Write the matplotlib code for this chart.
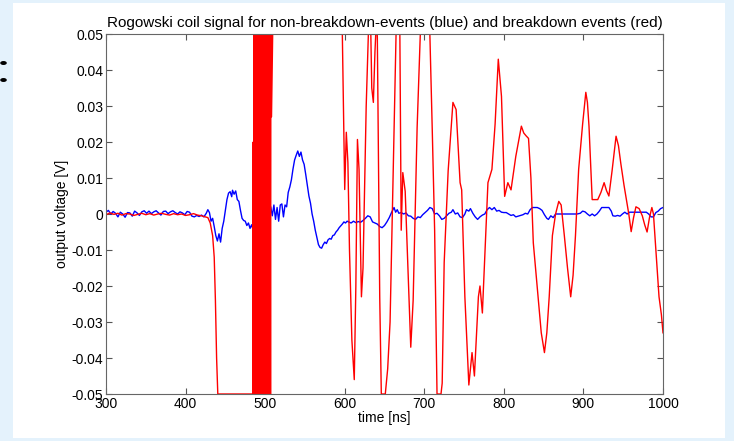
import matplotlib
matplotlib.use("Agg")
import matplotlib.pyplot as plt
from matplotlib.patches import Rectangle, Circle

plt.rcParams['font.family'] = ['Liberation Sans', 'DejaVu Sans']

# Non-breakdown event (blue): time [ns], voltage [V]
blue_t = [300, 303, 306, 309, 312, 315, 318, 321, 324, 327, 330, 333, 336, 339, 342, 345, 348, 351,
          354, 357, 360, 363, 366, 369, 372, 375, 378, 381, 384, 387, 390, 393, 396, 399, 402, 405,
          408, 411, 414, 417, 420, 423, 426, 428, 430, 432, 434, 436, 438, 440, 442, 444, 446, 448,
          450, 452, 454, 456, 458, 459, 461, 463, 465, 467, 469, 471, 473, 475, 477, 479, 481, 483,
          485, 488, 492, 496, 500, 504, 507, 509, 511, 513, 515, 517, 519, 521, 523, 525, 527, 529,
          531, 533, 535, 537, 539, 541, 543, 545, 547, 549, 551, 553, 555, 557, 559, 561, 563, 565,
          567, 569, 571, 573, 575, 577, 579, 581, 583, 585, 587, 589, 591, 593, 595, 597, 599, 601,
          603, 605, 608, 611, 614, 617, 620, 623, 626, 629, 632, 635, 638, 641, 644, 647, 650, 653,
          656, 659, 662, 664, 666, 668, 671, 674, 677, 680, 683, 686, 689, 692, 695, 698, 701, 704,
          707, 710, 713, 716, 719, 722, 725, 728, 731, 734, 736, 739, 742, 745, 748, 751, 753, 756,
          758, 761, 764, 767, 770, 773, 776, 779, 782, 785, 788, 791, 794, 797, 800, 803, 806, 809,
          812, 815, 818, 821, 824, 827, 830, 833, 836, 839, 842, 845, 848, 851, 854, 856, 859, 862,
          865, 868, 872, 876, 880, 884, 888, 892, 896, 899, 902, 905, 908, 911, 914, 917, 920, 923,
          926, 929, 932, 935, 937, 940, 943, 946, 949, 952, 955, 958, 961, 964, 967, 970, 973, 976,
          979, 982, 985, 988, 991, 994, 997, 1000]
blue_v = [0.0005, 0.001, 0.0, 0.0007, 0.0002, -0.0008, 0.0005, 0.0, -0.0009, 0.0004, 0.0003, -0.0006,
          0.0008, 0.0003, -0.0004, 0.0006, 0.0009, 0.0002, 0.0008, 0.0001, 0.0006, 0.0009, 0.0003,
          -0.0003, 0.0007, 0.0008, 0.0001, 0.0006, 0.0009, 0.0004, 0.0, 0.0006, 0.0003, -0.0002,
          0.0007, 0.0005, -0.0006, -0.0008, -0.0004, -0.0007, -0.0003, -0.0008, 0.0002, 0.0012,
          0.0004, -0.002, -0.0012, -0.0035, -0.006, -0.0075, -0.0055, -0.0078, -0.004, -0.002,
          0.001, 0.004, 0.0058, 0.0062, 0.0048, 0.0066, 0.0055, 0.0064, 0.004, 0.0035, 0.001,
          -0.0012, -0.0018, -0.002, -0.0032, -0.0025, -0.004, -0.003, -0.0045, -0.002, 0.001,
          -0.001, 0.002, -0.001, 0.002, -0.0005, 0.0025, -0.0015, 0.0018, -0.002, 0.0025, 0.0028,
          -0.0008, 0.0025, 0.002, 0.006, 0.0075, 0.0095, 0.0125, 0.015, 0.0163, 0.0175, 0.016,
          0.0172, 0.015, 0.0138, 0.011, 0.008, 0.005, 0.003, 0.0, -0.002, -0.0045, -0.0065,
          -0.0085, -0.0093, -0.0095, -0.0085, -0.0078, -0.0082, -0.0072, -0.0068, -0.007, -0.006,
          -0.0058, -0.005, -0.0045, -0.0038, -0.0033, -0.0028, -0.0022, -0.0025, -0.002, -0.0022,
          -0.0025, -0.002, -0.0024, -0.0021, -0.0023, -0.0018, -0.0012, -0.0005, -0.0008, -0.0022,
          -0.0025, -0.0028, -0.0035, -0.0038, -0.0032, -0.0022, -0.001, 0.0005, 0.0018, 0.0005,
          0.0012, 0.0002, 0.0004, 0.0, 0.0003, -0.0005, -0.0006, -0.0012, -0.0015, -0.0008, -0.001,
          -0.0002, 0.0004, 0.001, 0.0018, 0.0015, 0.0, 0.0002, -0.0005, -0.0015, -0.0012, -0.0005,
          0.0002, 0.0005, 0.0012, 0.0, 0.0003, -0.0008, -0.001, 0.0, 0.0012, 0.0008, 0.0015,
          0.0002, -0.0008, -0.0015, -0.0008, -0.0003, 0.0, 0.0012, 0.0018, 0.0012, 0.0018, 0.0008,
          0.001, 0.0005, 0.0004, 0.0004, 0.0, -0.0004, -0.0002, -0.0008, -0.0006, -0.0004, -0.0002,
          0.0002, 0.0, 0.0012, 0.0018, 0.0018, 0.0018, 0.0015, 0.001, -0.0002, -0.0012, -0.0015,
          -0.0005, -0.001, 0.0, 0.0, 0.0, 0.0, 0.0, 0.0, 0.0, 0.0, 0.0002, 0.0008, 0.0006, 0.0,
          -0.0005, 0.0, -0.0005, 0.0, 0.0008, 0.0018, 0.0018, 0.0018, 0.0018, 0.0008, -0.0005,
          -0.0006, -0.0004, -0.0006, 0.0, 0.0005, 0.0, 0.0005, 0.0005, 0.0005, 0.0005, 0.0005,
          0.0005, 0.0005, 0.0005, 0.0, -0.0008, -0.0008, 0.0004, 0.0008, 0.0015, 0.0018]

# Breakdown event (red): time [ns], voltage [V]
red_t = [300, 305, 310, 315, 320, 325, 330, 335, 340, 345, 350, 355, 360, 365, 370, 375, 380, 385,
         390, 395, 400, 405, 410, 415, 420, 425, 428, 431, 434, 436, 437.5, 439, 440.5, 450, 460,
         470, 480, 484.5,
         485.0, 485.5, 486.1, 486.6, 487.2, 487.8, 488.3, 488.9, 489.4, 490.0, 490.5, 491.1, 491.7,
         492.2, 492.8, 493.3, 493.9, 494.5, 495.0, 495.6, 496.1, 496.7, 497.3, 497.8, 498.4, 498.9,
         499.5, 500.1, 500.6, 501.2, 501.7, 502.3, 502.9, 503.4, 504.0, 504.5, 505.1, 505.7, 506.2,
         506.8, 507.3, 508.0,
         512, 530, 560, 590, 596, 597, 599, 600, 602, 604, 606, 609, 612, 614, 616, 618, 621, 623,
         627, 629, 630, 632, 634, 636, 638, 640, 641, 644, 646, 651, 654, 657, 662, 665, 669, 671,
         673, 676, 679, 683, 686, 691, 695, 697, 704, 707, 710, 713, 716, 721, 722.5, 725, 730, 736,
         740, 745, 747, 751, 756, 760, 763, 768, 770, 773, 780, 785, 789, 793, 797, 801, 805, 809,
         815, 822, 825, 828, 831, 834, 837, 843, 847, 851, 854, 857, 861, 865, 869, 872, 876, 880,
         884, 887, 890, 894, 899, 903, 905, 907, 911, 915, 918, 922, 926, 929, 932, 936, 941, 944,
         947, 951, 954, 957, 960, 963, 966, 970, 974, 977, 980, 983, 986, 988, 991, 995, 998, 1000]
red_v = [-0.0002, 0.0003, -0.0001, 0.0002, -0.0003, 0.0001, 0.0, -0.0004, -0.0001, 0.0002, -0.0002,
         0.0001, -0.0003, 0.0, 0.0002, -0.0001, -0.0003, 0.0001, -0.0002, 0.0, -0.0004, -0.0002,
         0.0001, -0.0003, -0.0005, -0.0008, -0.001, -0.0025, -0.006, -0.012, -0.024, -0.04, -0.05,
         -0.05, -0.05, -0.05, -0.05, -0.05,
         0.02, -0.09, 0.09, -0.08, 0.1, -0.1, 0.021, -0.09, 0.1, -0.1, 0.08, -0.0145, 0.1, -0.09,
         0.09, -0.1, 0.1, -0.08, 0.09, -0.1, 0.1, -0.09, 0.08, -0.1, 0.1, -0.09, 0.1, -0.1, 0.09,
         -0.08, 0.1, -0.1, 0.09, -0.1, 0.08, -0.09, 0.1, -0.08, 0.09, -0.1, 0.1, 0.027,
         0.09, 0.11, 0.1, 0.09, 0.06, 0.05, 0.02, 0.0068, 0.0227, 0.0143, -0.01, -0.035, -0.046,
         -0.02, 0.0207, 0.0124, -0.023, -0.015, 0.03, 0.045, 0.052, 0.06, 0.035, 0.031, 0.045,
         0.055, 0.049, -0.023, -0.05, -0.05, -0.043, -0.03, 0.024, 0.055, 0.06, -0.0045, 0.0115,
         0.0063, -0.012, -0.037, -0.024, 0.024, 0.05, 0.06, 0.06, 0.05, 0.0235, -0.0045, -0.05,
         -0.05, -0.047, -0.0135, 0.012, 0.031, 0.029, 0.0087, 0.0067, -0.023, -0.0475, -0.0385,
         -0.045, -0.023, -0.02, -0.0275, 0.0087, 0.0124, 0.025, 0.043, 0.0327, 0.0049, 0.0087,
         0.0067, 0.016, 0.0244, 0.0225, 0.0217, 0.021, 0.01, -0.008, -0.023, -0.033, -0.0385,
         -0.033, -0.023, -0.006, 0.0, 0.0035, 0.0025, -0.006, -0.015, -0.023, -0.017, -0.006,
         0.0124, 0.025, 0.0338, 0.031, 0.0244, 0.004, 0.004, 0.004, 0.006, 0.0087, 0.0065, 0.005,
         0.012, 0.0216, 0.019, 0.014, 0.008, 0.004, 0.0, -0.0049, -0.001, 0.002, 0.0015, -0.0005,
         -0.003, -0.005, -0.001, 0.0018, 0.0, -0.01, -0.023, -0.028, -0.033]

x_ticks = [300, 400, 500, 600, 700, 800, 900, 1000]
y_ticks = [-0.05, -0.04, -0.03, -0.02, -0.01, 0, 0.01, 0.02, 0.03, 0.04, 0.05]
y_tick_labels = ['-0.05', '-0.04', '-0.03', '-0.02', '-0.01', '0',
                 '0.01', '0.02', '0.03', '0.04', '0.05']

W, H = 734, 441
fig = plt.figure(figsize=(W / 100, H / 100), dpi=100)
fig.patch.set_facecolor('#e4f2fc')

# white panel and the two marker dots on the left margin
fig.add_artist(Rectangle((13 / W, 3 / H), (725 - 13) / W, (438 - 3) / H,
                         transform=fig.transFigure, facecolor='white', edgecolor='none', zorder=0))
for yy in (63, 80):
    fig.add_artist(Circle((3.5 / W, 1 - yy / H), 3.3 / W, transform=fig.transFigure,
                          facecolor='black', edgecolor='none', zorder=1))

ax = fig.add_axes([106 / W, 1 - 394 / H, (663 - 106) / W, (394 - 34) / H])
ax.set_facecolor('white')
ax.plot(blue_t, blue_v, color='#0000ff', lw=1.0)
ax.plot(red_t, red_v, color='#ff0000', lw=1.0)

ax.set_xlim(300, 1000)
ax.set_ylim(-0.05, 0.05)
ax.set_xticks(x_ticks)
ax.set_xticklabels([str(v) for v in x_ticks])
ax.set_yticks(y_ticks)
ax.set_yticklabels(y_tick_labels)
ax.tick_params(direction='in', top=True, right=True, length=4, width=0.8,
               labelsize=10, colors='#555555', labelcolor='black', pad=2)
for s in ax.spines.values():
    s.set_color('#666666')
    s.set_linewidth(0.8)

ax.set_title('Rogowski coil signal for non-breakdown-events (blue) and breakdown events (red)',
             fontsize=11, pad=5)
ax.set_xlabel('time [ns]', fontsize=10, labelpad=0)
ax.set_ylabel('output voltage [V]', fontsize=10, labelpad=2)

fig.savefig('out.png', dpi=100)
